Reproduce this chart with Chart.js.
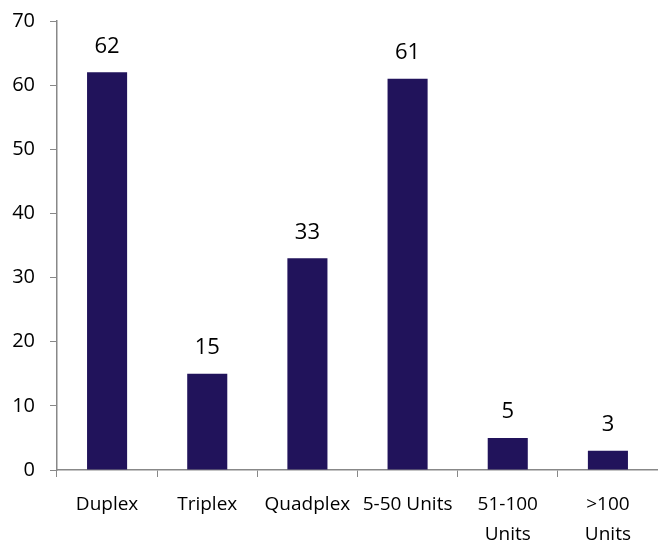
<!DOCTYPE html>
<html lang="en">
<head>
<title>Units chart</title>
<script src="https://cdn.jsdelivr.net/npm/chart.js@4/dist/chart.umd.min.js"></script>
<style>
  html, body { margin: 0; padding: 0; background: #fff; }
  #wrap { width: 658px; height: 540px; }
</style>
<script>
var categories = ['Duplex', 'Triplex', 'Quadplex', '5-50 Units', ['51-100', 'Units'], ['>100', 'Units']];
var counts = [62, 15, 33, 61, 5, 3];
var yTicks = [0, 10, 20, 30, 40, 50, 60, 70];

// value labels above each bar
var valueLabels = {
  id: 'valueLabels',
  afterDatasetsDraw: function(chart){
    var ctx = chart.ctx;
    var meta = chart.getDatasetMeta(0);
    ctx.save();
    ctx.font = '22px "Open Sans", sans-serif';
    ctx.fillStyle = '#000';
    ctx.textAlign = 'center';
    ctx.textBaseline = 'middle';
    meta.data.forEach(function(bar, i){
      ctx.fillText(counts[i], bar.x, bar.y - 26);
    });
    ctx.restore();
  }
};

function go(){
  var ctx = document.getElementById('myChart');
  new Chart(ctx, {
    type: 'bar',
    data: {
      labels: categories,
      datasets: [{
        data: counts,
        backgroundColor: '#21135b',
        borderWidth: 0,
        categoryPercentage: 1,
        barPercentage: 0.4
      }]
    },
    options: {
      responsive: false,
      animation: false,
      layout: { padding: { top: 21, right: 0, left: 0, bottom: 0 } },
      plugins: { legend: { display: false }, tooltip: { enabled: false } },
      scales: {
        x: {
          grid: { display: true, drawOnChartArea: false, drawTicks: true, tickLength: 7, color: '#888', offset: true },
          border: { color: '#888', width: 1.5 },
          ticks: { color: '#000', font: { size: 19, family: '"Open Sans", sans-serif', lineHeight: 1.6 }, padding: 12, maxRotation: 0, autoSkip: false },
          afterFit: function(s){ s.height = 70; s.paddingLeft = 0; s.paddingRight = 0; }
        },
        y: {
          min: 0, max: 70,
          afterBuildTicks: function(s){ s.ticks = yTicks.map(function(v){ return { value: v }; }); },
          grid: { display: true, drawOnChartArea: false, drawTicks: true, tickLength: 7, color: '#888' },
          border: { color: '#888', width: 1.5 },
          ticks: { color: '#000', font: { size: 20, family: '"Open Sans", sans-serif' }, padding: 15 },
          afterFit: function(s){ s.width = 57; s.paddingTop = 0; s.paddingBottom = 0; }
        }
      }
    },
    plugins: [valueLabels]
  });
}
</script>
</head>
<body onload="go();">
<div id="wrap"><canvas id="myChart" width="658" height="540"></canvas></div>
</body>
</html>
